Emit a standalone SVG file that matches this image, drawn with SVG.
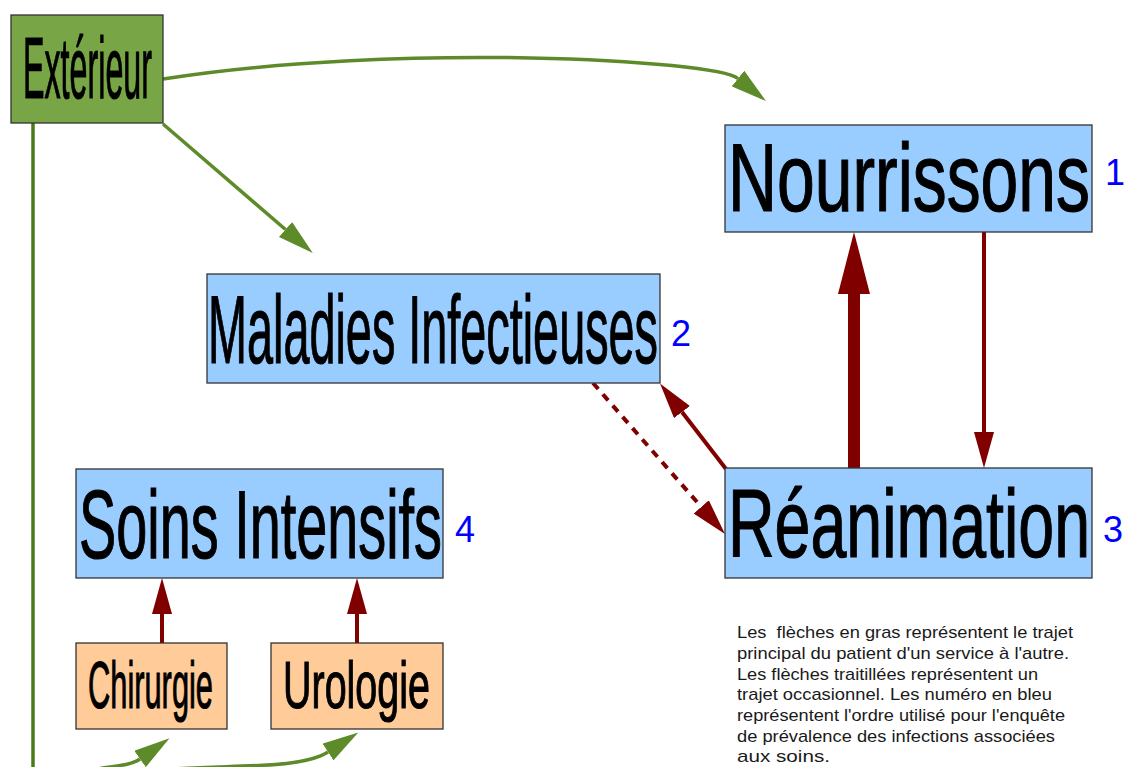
<svg xmlns="http://www.w3.org/2000/svg" width="1126" height="767" viewBox="0 0 1126 767">
<style>
.box{stroke:#333333;stroke-width:1.3}
.blue{fill:#99ccff}
.green{fill:#78a545}
.orange{fill:#ffcc99}
.lbl{font-family:"Liberation Sans",Arial,sans-serif;fill:#000000;stroke:#000000;stroke-width:1.2}
.num{font-family:"Liberation Sans",Arial,sans-serif;fill:#0000ff;font-size:36px}
.note{font-family:"Liberation Sans",Arial,sans-serif;fill:#1a1a1a;font-size:17px}
.gl{fill:none;stroke:#5e8b2a;stroke-width:3.5}
.rl{fill:none;stroke:#800000;stroke-width:4}
.thick{stroke-width:12}
</style>
<defs>
<marker id="mg" viewBox="0 0 36 20" refX="0" refY="10" markerWidth="36" markerHeight="20" markerUnits="userSpaceOnUse" orient="auto"><path d="M0,0 L36,10 L0,20 Z" fill="#5e8b2a"/></marker>
<marker id="mr" viewBox="0 0 36 20" refX="0" refY="10" markerWidth="36" markerHeight="20" markerUnits="userSpaceOnUse" orient="auto"><path d="M0,0 L36,10 L0,20 Z" fill="#800000"/></marker>
<marker id="mrt" viewBox="0 0 62 32" refX="0" refY="16" markerWidth="62" markerHeight="32" markerUnits="userSpaceOnUse" orient="auto"><path d="M0,0 L62,16 L0,32 Z" fill="#800000"/></marker>
</defs>
<rect width="1126" height="767" fill="#ffffff"/>
<g id="connectors">
<path class="gl" d="M163,79 C400,42 715,60 738,78.5" marker-end="url(#mg)"/>
<path class="gl" d="M163,124 L285.5,229.5" marker-end="url(#mg)"/>
<path d="M33,123 L33,770" fill="none" stroke="#4c7a18" stroke-width="3.5"/>
<path class="gl" d="M92,770 C112,766 130,766 140,759" marker-end="url(#mg)"/>
<path class="gl" d="M160,770 C230,764 300,770 328,752" marker-end="url(#mg)"/>
<path class="rl" d="M984,232 L984,432" marker-end="url(#mr)"/>
<path class="rl thick" d="M854,468 L854,294" marker-end="url(#mrt)"/>
<path class="rl" d="M162,643 L162,614" marker-end="url(#mr)"/>
<path class="rl" d="M357,643 L357,614" marker-end="url(#mr)"/>
<path class="rl" d="M726,469 L682,412" marker-end="url(#mr)"/>
<path class="rl" d="M593,383 L701.3,506.9" stroke-dasharray="8 7" marker-end="url(#mr)"/>
</g>
<g id="exterieur">
<rect class="box green" x="11" y="15" width="152" height="108"/>
<text class="lbl" x="23" y="98" font-size="88" textLength="129" lengthAdjust="spacingAndGlyphs">Extérieur</text>
</g>
<g id="nourrissons">
<rect class="box blue" x="725" y="125" width="367" height="107"/>
<text class="lbl" x="728" y="211" font-size="97" textLength="362" lengthAdjust="spacingAndGlyphs">Nourrissons</text>
<text class="num" x="1105" y="185">1</text>
</g>
<g id="maladies">
<rect class="box blue" x="207" y="274" width="453" height="109"/>
<text class="lbl" x="208" y="363" font-size="97" textLength="450" lengthAdjust="spacingAndGlyphs">Maladies Infectieuses</text>
<text class="num" x="671" y="346">2</text>
</g>
<g id="reanimation">
<rect class="box blue" x="725" y="468" width="367" height="110"/>
<text class="lbl" x="728" y="557" font-size="97" textLength="362" lengthAdjust="spacingAndGlyphs">Réanimation</text>
<text class="num" x="1103" y="542">3</text>
</g>
<g id="soins">
<rect class="box blue" x="76" y="469" width="367" height="109"/>
<text class="lbl" x="79" y="558" font-size="97" textLength="363" lengthAdjust="spacingAndGlyphs">Soins Intensifs</text>
<text class="num" x="455" y="542">4</text>
</g>
<g id="chirurgie">
<rect class="box orange" x="76" y="643" width="151" height="86"/>
<text class="lbl" x="88" y="708" font-size="67" textLength="125" lengthAdjust="spacingAndGlyphs">Chirurgie</text>
</g>
<g id="urologie">
<rect class="box orange" x="271" y="643" width="172" height="86"/>
<text class="lbl" x="283" y="708" font-size="67" textLength="147" lengthAdjust="spacingAndGlyphs">Urologie</text>
</g>
<g id="note">
<text class="note" x="737" y="638" xml:space="preserve" textLength="336" lengthAdjust="spacingAndGlyphs">Les  flèches en gras représentent le trajet</text>
<text class="note" x="737" y="659" textLength="332" lengthAdjust="spacingAndGlyphs">principal du patient d'un service à l'autre.</text>
<text class="note" x="737" y="680" textLength="301" lengthAdjust="spacingAndGlyphs">Les flèches traitillées représentent un</text>
<text class="note" x="737" y="700" textLength="315" lengthAdjust="spacingAndGlyphs">trajet occasionnel. Les numéro en bleu</text>
<text class="note" x="737" y="721" textLength="328" lengthAdjust="spacingAndGlyphs">représentent l'ordre utilisé pour l'enquête</text>
<text class="note" x="737" y="742" textLength="318" lengthAdjust="spacingAndGlyphs">de prévalence des infections associées</text>
<text class="note" x="737" y="762" textLength="93" lengthAdjust="spacingAndGlyphs">aux soins.</text>
</g>
</svg>
